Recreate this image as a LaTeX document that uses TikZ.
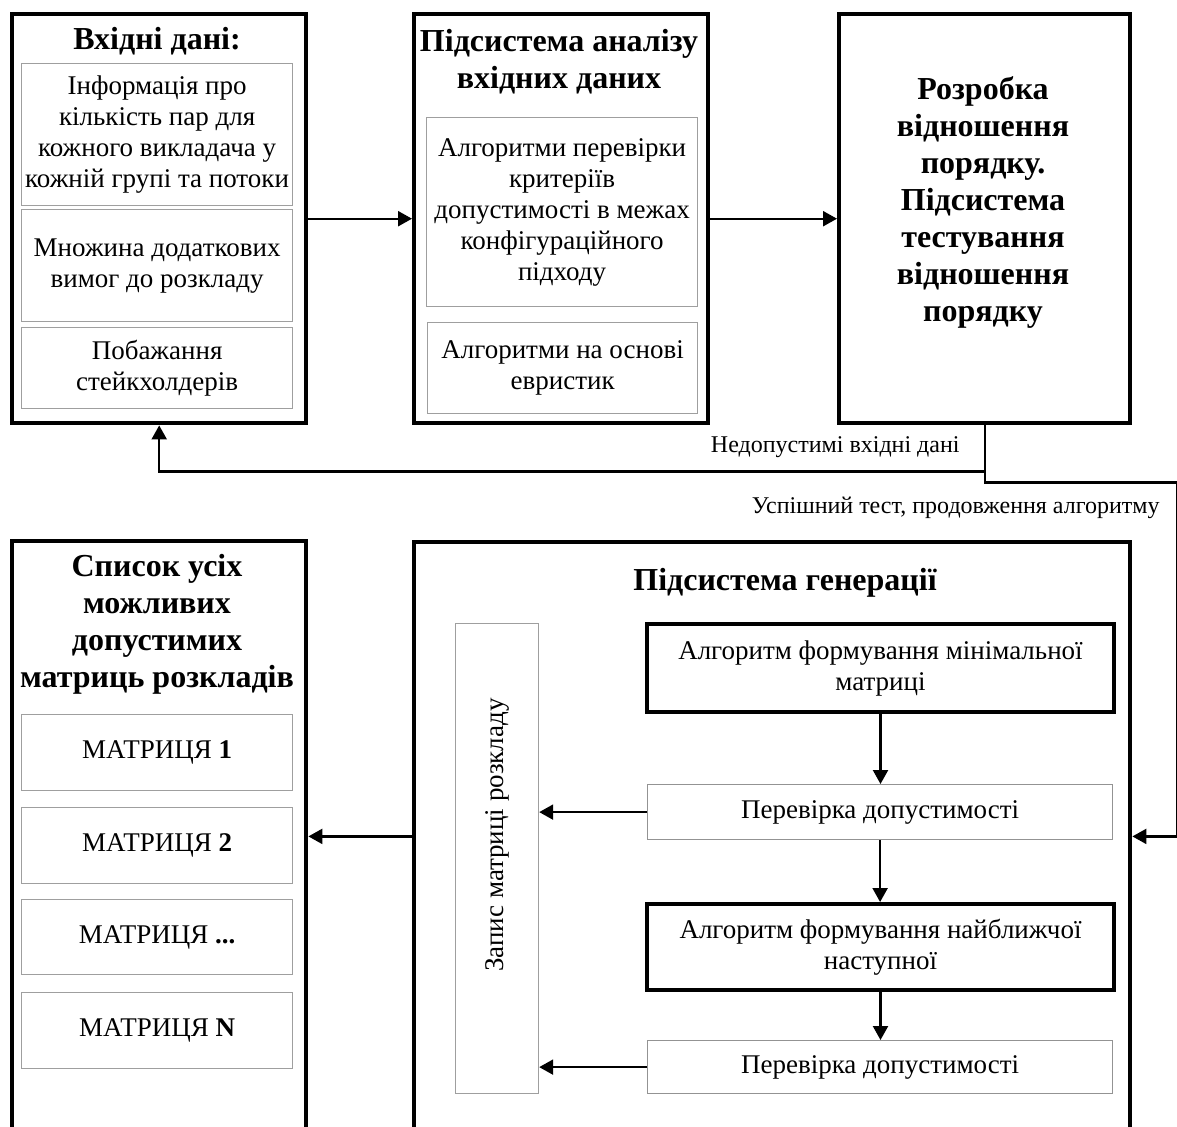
\documentclass[tikz,border=0pt]{standalone}
\usepackage{fontspec}
\setmainfont{Liberation Serif}
\usetikzlibrary{arrows.meta}
\newcommand\myBody{\fontsize{13.5}{15.5}\selectfont}
\newcommand\myTitle{\fontsize{16}{18.5}\selectfont\bfseries}
\newcommand\myLabel{\fontsize{12}{14}\selectfont}
\begin{document}
\begin{tikzpicture}[x=0.5pt,y=-0.5pt,
  outerbox/.style={draw, line width=2.2pt, inner sep=0pt, anchor=north west},
  innerbox/.style={draw=gray!75, line width=0.6pt, inner sep=0pt, anchor=north west, align=center, font=\myBody},
  algbox/.style={draw, line width=2pt, inner sep=0pt, anchor=north west, align=center, font=\myBody},
  checkbox/.style={draw=gray!85, line width=0.6pt, inner sep=0pt, anchor=north west, align=center, font=\myBody},
  ttl/.style={align=center, font=\myTitle, inner sep=0pt},
  lbl/.style={font=\myLabel, inner sep=0pt},
  arr/.style={line width=1.1pt, -{Triangle[length=7pt,width=7.5pt]}}
]
\useasboundingbox (0,0) rectangle (1177,1126);
\clip (0,0) rectangle (1177,1126);

% ---- top row ----
\node[outerbox, minimum width=147pt, minimum height=204.5pt] (in) at (10,12) {};
\node[ttl] (inT) at (157,41) {Вхідні дані:};
\node[innerbox, minimum width=135.5pt, minimum height=71pt] (in1) at (21,63)
  {Інформація про\\кількість пар для\\кожного викладача у\\кожній групі та потоки};
\node[innerbox, minimum width=135.5pt, minimum height=56pt] (in2) at (21,209)
  {Множина додаткових\\вимог до розкладу};
\node[innerbox, minimum width=135.5pt, minimum height=40.5pt] (in3) at (21,327)
  {Побажання\\стейкхолдерів};

\node[outerbox, minimum width=147pt, minimum height=204.5pt] (an) at (412,12) {};
\node[ttl] (anT) at (559,62) {Підсистема аналізу\\вхідних даних};
\node[innerbox, minimum width=135.5pt, minimum height=94.5pt] (an1) at (426,117)
  {Алгоритми перевірки\\критеріїв\\допустимості в межах\\конфігураційного\\підходу};
\node[innerbox, minimum width=135pt, minimum height=45.5pt] (an2) at (427,322)
  {Алгоритми на основі\\евристик};

\node[outerbox, minimum width=145.5pt, minimum height=204.5pt] (rt) at (837,12) {};
\node[ttl] (rtT) at (983,202) {Розробка\\відношення\\порядку.\\Підсистема\\тестування\\відношення\\порядку};

% ---- bottom row ----
\node[outerbox, minimum width=147pt, minimum height=320.5pt] (lst) at (10,539) {};
\node[ttl] (lstT) at (157,624) {Список усіх\\можливих\\допустимих\\матриць розкладів};
\node[innerbox, minimum width=135.5pt, minimum height=38pt] (m1) at (21,714) {МАТРИЦЯ \textbf{1}};
\node[innerbox, minimum width=135.5pt, minimum height=38pt] (m2) at (21,807) {МАТРИЦЯ \textbf{2}};
\node[innerbox, minimum width=135.5pt, minimum height=37.5pt] (m3) at (21,899) {МАТРИЦЯ \textbf{...}};
\node[innerbox, minimum width=135.5pt, minimum height=38pt] (m4) at (21,992) {МАТРИЦЯ \textbf{N}};

\node[outerbox, minimum width=358pt, minimum height=320pt] (gen) at (412,540) {};
\node[ttl] (genT) at (785,583) {Підсистема генерації};
\node[innerbox, minimum width=41.5pt, minimum height=235pt] (rec) at (455,623) {};
\node[font=\myBody, rotate=90, inner sep=0pt] (recT) at (497,835) {Запис матриці розкладу};
\node[algbox, minimum width=233.5pt, minimum height=44pt] (a1) at (645,622)
  {Алгоритм формування мінімальної\\матриці};
\node[checkbox, minimum width=232.5pt, minimum height=27.5pt] (c1) at (647,784)
  {Перевірка допустимості};
\node[algbox, minimum width=233.5pt, minimum height=43pt] (a2) at (645,902)
  {Алгоритм формування найближчої\\наступної};
\node[checkbox, minimum width=232.5pt, minimum height=26.5pt] (c2) at (647,1040)
  {Перевірка допустимості};

% ---- connectors ----
\draw[arr] (in.east) -- (in.east -| an.west);
\draw[arr] (an.east) -- (an.east -| rt.west);

% feedback and continuation lines below the testing box
\path (rt.south) ++(0,46) coordinate (fb);
\path (fb) ++(0,11) coordinate (ok1);
\path (ok1) ++(192,0) coordinate (ok2);
\path (ok2) ++(0,354) coordinate (ok3);
\draw[arr] (rt.south) -- (fb) -| (in.south);
\draw[arr] (fb) -- (ok1) -- (ok2) -- (ok3) -- (ok3 -| gen.east);
\node[lbl, anchor=east] (nok) at (960,447) {Недопустимі вхідні дані};
\node[lbl, anchor=east] (yes) at (1160,508) {Успішний тест, продовження алгоритму};

\draw[arr] (gen.west |- ok3) -- (lst.east |- ok3);

\draw[arr] (a1.south) -- (a1.south |- c1.north);
\draw[arr] (c1.south) -- (c1.south |- a2.north);
\draw[arr] (a2.south) -- (a2.south |- c2.north);
\draw[arr] (c1.west) -- (c1.west -| rec.east);
\draw[arr] (c2.west) -- (c2.west -| rec.east);
\end{tikzpicture}
\end{document}
